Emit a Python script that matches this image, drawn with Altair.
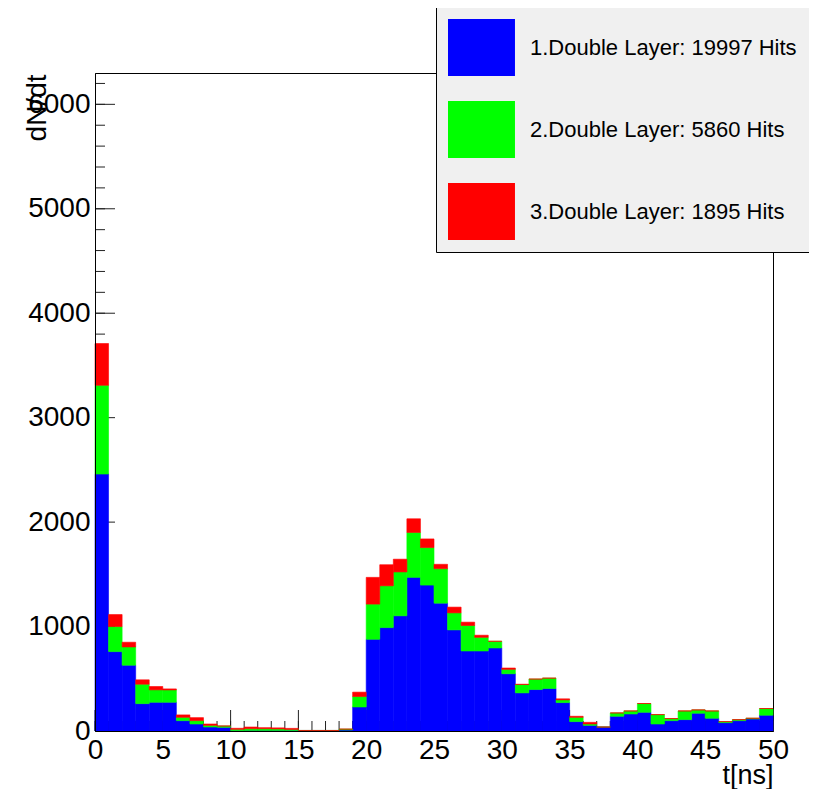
import altair as alt
import pandas as pd

# ---- data (counts per 1 ns bin, 0..50 ns) ----
blue = [2460, 760, 630, 262, 275, 275, 99, 67, 38, 35,
        3, 5, 5, 5, 5, 5, 5, 5, 10, 230,
        878, 990, 1103, 1471, 1397, 1224, 968, 766, 766, 795,
        548, 365, 397, 407, 272, 90, 54, 38, 141, 163,
        179, 67, 99, 109, 170, 122, 80, 99, 115, 151]
green = [850, 240, 175, 186, 119, 118, 32, 32, 16, 13,
         13, 17, 17, 15, 10, 0, 0, 0, 8, 100,
         337, 400, 420, 430, 359, 330, 163, 244, 131, 64,
         42, 80, 100, 99, 26, 41, 13, 0, 32, 29,
         84, 90, 20, 83, 32, 70, 10, 10, 7, 64]
red = [400, 115, 45, 42, 32, 10, 23, 29, 13, 0,
       10, 16, 10, 10, 10, 0, 0, 0, 0, 42,
       256, 202, 122, 131, 83, 42, 55, 32, 20, 0,
       13, 3, 0, 0, 10, 10, 16, 0, 0, 0,
       0, 0, 0, 0, 0, 0, 0, 0, 0, 0]
labels = ["1.Double Layer: 19997 Hits",
          "2.Double Layer: 5860 Hits",
          "3.Double Layer: 1895 Hits"]
colors = ["#0000ff", "#00ff00", "#ff0000"]

x_major = list(range(0, 51, 5))
x_minor = list(range(0, 51, 1))
y_major = list(range(0, 6001, 1000))
y_minor = list(range(0, 6301, 200))

rows = []
for k, (lab, vals) in enumerate(zip(labels, [blue, green, red])):
    for i, v in enumerate(vals):
        rows.append({"t0": i, "t1": i + 1, "layer": lab, "order": k, "n": v})
df = pd.DataFrame(rows)

W, H = 678, 658
FONT = "Liberation Sans"
xs = alt.Scale(domain=[0, 50], nice=False, zero=False)
ys = alt.Scale(domain=[0, 6300], nice=False)

xaxis = alt.Axis(values=x_major, ticks=False, grid=False, domain=True,
                 domainColor="black", domainWidth=1,
                 labelFont=FONT, labelFontSize=28, labelColor="black",
                 labelPadding=5, labelFlush=False, labelOverlap=False,
                 title="t[ns]", titleFont=FONT, titleFontSize=27,
                 titleFontWeight="normal", titleColor="black",
                 titleAnchor="end", titleAlign="right", titleBaseline="alphabetic",
                 titleX=W, titleY=52, zindex=1)
yaxis = alt.Axis(values=y_major, format="d", ticks=False, grid=False, domain=True,
                 domainColor="black", domainWidth=1,
                 labelFont=FONT, labelFontSize=28, labelColor="black",
                 labelPadding=5, labelFlush=False, labelOverlap=False,
                 title="dN/dt", titleFont=FONT, titleFontSize=28,
                 titleFontWeight="normal", titleColor="black",
                 titleAngle=270, titleAlign="right", titleBaseline="alphabetic",
                 titleX=-50, titleY=1, zindex=1)

tick_col = "#222222"
ytick_minor = alt.Chart(pd.DataFrame({"v": y_minor})).mark_rule(color=tick_col, strokeWidth=1).encode(
    y=alt.Y("v:Q", scale=ys, axis=yaxis), x=alt.value(0), x2=alt.value(10))
ytick_major = alt.Chart(pd.DataFrame({"v": y_major})).mark_rule(color=tick_col, strokeWidth=1).encode(
    y=alt.Y("v:Q", scale=ys, axis=yaxis), x=alt.value(0), x2=alt.value(20))
xtick_minor = alt.Chart(pd.DataFrame({"v": x_minor})).mark_rule(color=tick_col, strokeWidth=1).encode(
    x=alt.X("v:Q", scale=xs, axis=xaxis), y=alt.value(H), y2=alt.value(H - 10))
xtick_major = alt.Chart(pd.DataFrame({"v": x_major})).mark_rule(color=tick_col, strokeWidth=1).encode(
    x=alt.X("v:Q", scale=xs, axis=xaxis), y=alt.value(H), y2=alt.value(H - 21))

cscale = alt.Scale(domain=labels, range=colors)
bars = alt.Chart(df).transform_stack(
    stack="n", groupby=["t0"], as_=["y0", "y1"],
    sort=[alt.SortField("order", order="ascending")]
).mark_rect(strokeWidth=0.6).encode(
    x=alt.X("t0:Q", scale=xs, axis=xaxis),
    x2="t1:Q",
    y=alt.Y("y0:Q", scale=ys, axis=yaxis),
    y2="y1:Q",
    color=alt.Color("layer:N", scale=cscale, legend=alt.Legend(
        title=" ", titleOrient="right", titlePadding=10, titleFontSize=10,
        orient="none", legendX=341, legendY=-66, direction="vertical",
        fillColor="#f0f0f0", strokeColor="black", padding=12,
        symbolType="M-1,-1L1.35,-1L1.35,1L-1,1Z", symbolSize=3249,
        symbolStrokeWidth=0, symbolOpacity=1,
        labelFont=FONT, labelFontSize=22, labelColor="black",
        labelOffset=25, rowPadding=25, labelLimit=0)),
    stroke=alt.Stroke("layer:N", scale=cscale, legend=None),
)

chart = alt.layer(ytick_minor, ytick_major, xtick_minor, xtick_major, bars).properties(
    width=W, height=H,
    autosize=alt.AutoSizeParams(type="none"),
    padding={"left": 87, "top": 65, "right": 36, "bottom": 58},
    background="white",
).configure_view(stroke="black", strokeWidth=1)

chart.save("out.html", embed_options={"renderer": "svg", "actions": False})
